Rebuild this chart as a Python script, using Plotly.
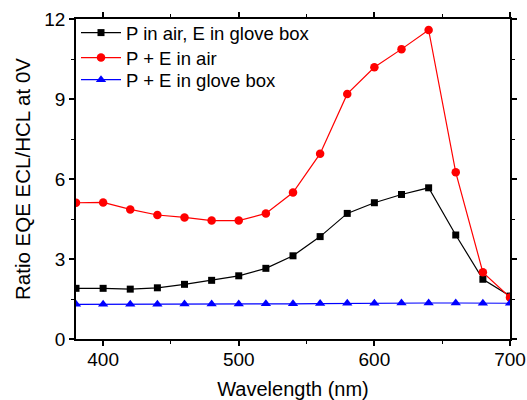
import plotly.graph_objects as go

wavelength = [380, 400, 420, 440, 460, 480, 500, 520, 540, 560, 580, 600, 620, 640, 660, 680, 700]
p_air_e_glove = [1.90, 1.90, 1.87, 1.92, 2.05, 2.20, 2.37, 2.65, 3.12, 3.84, 4.71, 5.11, 5.42, 5.67, 3.90, 2.24, 1.61]
pe_air = [5.11, 5.12, 4.86, 4.65, 4.56, 4.44, 4.44, 4.71, 5.49, 6.95, 9.19, 10.19, 10.87, 11.59, 6.25, 2.50, 1.56]
pe_glove = [1.30, 1.30, 1.30, 1.30, 1.31, 1.31, 1.31, 1.32, 1.32, 1.33, 1.34, 1.34, 1.35, 1.35, 1.35, 1.34, 1.34]

names = ["P in air, E in glove box", "P + E in air", "P + E in glove box"]

FONT = "Arial, Liberation Sans"

fig = go.Figure()
fig.add_trace(go.Scatter(x=wavelength, y=p_air_e_glove, name=names[0], mode="lines+markers",
                         line=dict(color="black", width=1.2), legend="legend", showlegend=True,
                         marker=dict(symbol="square", size=7, color="black")))
fig.add_trace(go.Scatter(x=wavelength, y=pe_air, name=names[1], mode="lines+markers",
                         line=dict(color="red", width=1.2), legend="legend2", showlegend=True,
                         marker=dict(symbol="circle", size=8.5, color="red")))
fig.add_trace(go.Scatter(x=wavelength, y=pe_glove, name=names[2], mode="lines+markers",
                         line=dict(color="blue", width=1.2), legend="legend3", showlegend=True,
                         marker=dict(symbol="triangle-up", size=9, color="blue")))

axis_common = dict(showline=True, linecolor="black", linewidth=1.5, mirror="allticks",
                   ticks="outside", ticklen=5, tickwidth=1.5, tickcolor="black",
                   showgrid=False, zeroline=False, automargin=False,
                   tickfont=dict(family=FONT, size=19, color="black"))

fig.update_xaxes(range=[380, 700], tickvals=[400, 500, 600, 700],
                 minor=dict(ticks="outside", ticklen=3, tickwidth=1.2, tickcolor="black",
                            tickvals=[450, 550, 650]),
                 ticklabelstandoff=-3,
                 title=dict(text="Wavelength (nm)", font=dict(family=FONT, size=20, color="black"), standoff=15),
                 **axis_common)
fig.update_yaxes(range=[0, 12], tickvals=[0, 3, 6, 9, 12],
                 minor=dict(ticks="outside", ticklen=3, tickwidth=1.2, tickcolor="black",
                            tickvals=[1.5, 4.5, 7.5, 10.5]),
                 title=dict(text="Ratio EQE ECL/HCL at 0V", font=dict(family=FONT, size=20.5, color="black"), standoff=8),
                 **axis_common)

leg_common = dict(x=0.0, xanchor="left", yanchor="middle", bgcolor="rgba(0,0,0,0)",
                  font=dict(family=FONT, size=18.5, color="black"), itemwidth=40)

fig.update_layout(width=527, height=400, margin=dict(l=76, r=17, t=19, b=61),
                  plot_bgcolor="white", paper_bgcolor="white", showlegend=True,
                  font=dict(family=FONT, color="black"),
                  legend=dict(y=0.956, **leg_common),
                  legend2=dict(y=0.878, **leg_common),
                  legend3=dict(y=0.809, **leg_common))

fig.write_html("out.html")
